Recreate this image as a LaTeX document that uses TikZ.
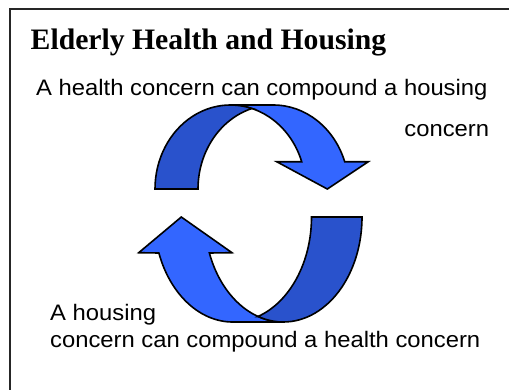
\documentclass[tikz,border=0pt]{standalone}
\usepackage{fontspec}
\setmainfont{Liberation Serif}
\newfontfamily\bodyfont{Liberation Sans}
\usetikzlibrary{calc}
\definecolor{frontblue}{HTML}{3366FF}
\definecolor{backblue}{HTML}{2952CC}
\tikzset{
  frameline/.style={line width=1.5bp, draw=black!85},
  ribbonfront/.style={fill=frontblue, draw=black, line width=1.6bp},
  ribbonback/.style={fill=backblue, draw=black, line width=1.6bp},
  titletext/.style={inner sep=0pt, anchor=base west, font=\fontsize{29.8}{32}\selectfont\bfseries},
  bodytext/.style={inner sep=0pt, font=\bodyfont\fontsize{22.5}{26}\selectfont},
}
\newcommand{\wide}[1]{\scalebox{1.062}[1]{#1}}
\begin{document}
\begin{tikzpicture}[x=1bp,y=-1bp]
\useasboundingbox (0,0) rectangle (509,389);
\fill[white] (0,0) rectangle (509,389);
% frame
\coordinate (fbl) at (10,392);
\coordinate (ftl) at (10,9);
\coordinate (ftr) at (512,9);
\draw[frameline] (fbl) -- (ftl) -- (ftr);

% title and texts
\node[titletext] (title) at (30.5,49.3) {Elderly Health and Housing};
\node[bodytext, anchor=base west] (t1) at (36,95) {\wide{A health concern can compound a housing}};
\node[bodytext, anchor=base east] (t2) at (489.3,136) {\wide{concern}};
\node[bodytext, anchor=base west] (t3) at (50,320.7) {\wide{A housing}};
\node[bodytext, anchor=base west] (t4) at (50,347.3) {\wide{concern can compound a health concern}};

% upper curved arrow
\coordinate (UA) at (230.4,189);
\coordinate (UC) at (273.4,189);
\path[ribbonfront] (327.3,189) -- (276.7,161.7)
  -- ($(UA)+(341.03:75.4 and 84)$)
  arc[start angle=341.03, end angle=270, x radius=75.4, y radius=84]
  -- ($(UC)+(270:75.4 and 84)$)
  arc[start angle=270, end angle=341.03, x radius=75.4, y radius=84]
  -- (368.3,161.7) -- cycle;
\path[ribbonback] ($(UC)+(253.43:75.4 and 84)$)
  arc[start angle=253.43, end angle=180, x radius=75.4, y radius=84]
  -- ($(UA)+(180:75.4 and 84)$)
  arc[start angle=180, end angle=286.57, x radius=75.4, y radius=84]
  -- cycle;

% lower curved arrow
\coordinate (LA) at (283.3,217);
\coordinate (LC) at (232.8,217);
\path[ribbonfront] (181.3,217) -- (232,252.7)
  -- ($(LA)+(159.95:78.7 and 105)$)
  arc[start angle=159.95, end angle=90, x radius=78.7, y radius=105]
  -- ($(LC)+(90:78.7 and 105)$)
  arc[start angle=90, end angle=159.95, x radius=78.7, y radius=105]
  -- (138.7,252.7) -- cycle;
\path[ribbonback] ($(LC)+(71.29:78.7 and 105)$)
  arc[start angle=71.29, end angle=0, x radius=78.7, y radius=105]
  -- ($(LA)+(0:78.7 and 105)$)
  arc[start angle=0, end angle=108.71, x radius=78.7, y radius=105]
  -- cycle;
\end{tikzpicture}
\end{document}
